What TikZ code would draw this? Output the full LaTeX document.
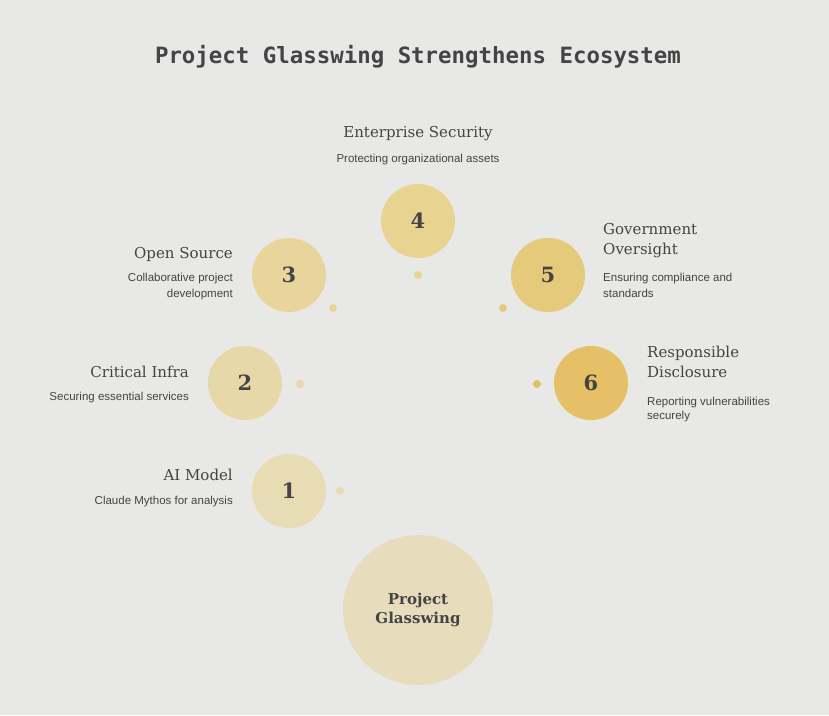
\documentclass[tikz,border=0pt]{standalone}
\usepackage{fontspec}
\setmainfont{DejaVu Serif}
\setsansfont{Liberation Sans}
\setmonofont{DejaVu Sans Mono}
\begin{document}
\begin{tikzpicture}[x=1pt,y=-1pt,
  circ/.style={circle,inner sep=0pt,minimum size=74pt,font=\fontsize{21}{21}\selectfont\bfseries,text=txt},
  dotc/.style={circle,inner sep=0pt,minimum size=8pt},
  ttl/.style={font=\fontsize{15}{18}\selectfont,text=txt,inner sep=0pt},
  dsc/.style={font=\sffamily\fontsize{11.5}{15.5}\selectfont,text=txt,inner sep=0pt}]
\definecolor{bg}{HTML}{E8E8E6}
\definecolor{txt}{HTML}{444444}
\definecolor{c1}{HTML}{E7DCB3}
\definecolor{c2}{HTML}{E7D8A9}
\definecolor{c3}{HTML}{E8D59B}
\definecolor{c4}{HTML}{E8D391}
\definecolor{c5}{HTML}{E6CA7C}
\definecolor{c6}{HTML}{E5C066}
\definecolor{c0}{HTML}{E7DDBC}
\fill[bg] (0,0) rectangle (829,715);
\node[font=\ttfamily\fontsize{22.4}{22}\selectfont\bfseries,text=txt] (title) at (418,57) {Project Glasswing Strengthens Ecosystem};
\node[circ,fill=c0,minimum size=150pt,font=\fontsize{15}{19.5}\selectfont\bfseries,align=center] (c0) at (418,610) {Project\\Glasswing};
\node[circ,fill=c1] (n1) at (289,491) {1};
\node[circ,fill=c2] (n2) at (245,383) {2};
\node[circ,fill=c3] (n3) at (289,275) {3};
\node[circ,fill=c4] (n4) at (418,221) {4};
\node[circ,fill=c5] (n5) at (548,275) {5};
\node[circ,fill=c6] (n6) at (591,383) {6};
\node[dotc,fill=c1] (d1) at (340,491) {};
\node[dotc,fill=c2] (d2) at (300,384) {};
\node[dotc,fill=c3] (d3) at (333,308) {};
\node[dotc,fill=c4] (d4) at (418,275) {};
\node[dotc,fill=c5] (d5) at (503,308) {};
\node[dotc,fill=c6] (d6) at (537,384) {};
% labels
\node[ttl] (t4) at (418,134) {Enterprise Security};
\node[dsc] (s4) at (418,160) {Protecting organizational assets};
\node[ttl,anchor=east] (t3) at (233,254) {Open Source};
\node[dsc,anchor=north east,align=right] (s3) at (233,273) {Collaborative project\\development};
\node[ttl,anchor=east] (t2) at (189,372) {Critical Infra};
\node[dsc,anchor=east] (s2) at (189,398) {Securing essential services};
\node[ttl,anchor=east] (t1) at (233,475) {AI Model};
\node[dsc,anchor=east] (s1) at (233,502) {Claude Mythos for analysis};
\node[ttl,anchor=north west,align=left,font=\fontsize{15}{20}\selectfont] (t5) at (603,223) {Government\\Oversight};
\node[dsc,anchor=north west,align=left] (s5) at (603,273) {Ensuring compliance and\\standards};
\node[ttl,anchor=north west,align=left,font=\fontsize{15}{20}\selectfont] (t6) at (647,346) {Responsible\\Disclosure};
\node[dsc,anchor=north west,align=left,font=\sffamily\fontsize{11.5}{13.5}\selectfont] (s6) at (647,397) {Reporting vulnerabilities\\securely};
\end{tikzpicture}
\end{document}
